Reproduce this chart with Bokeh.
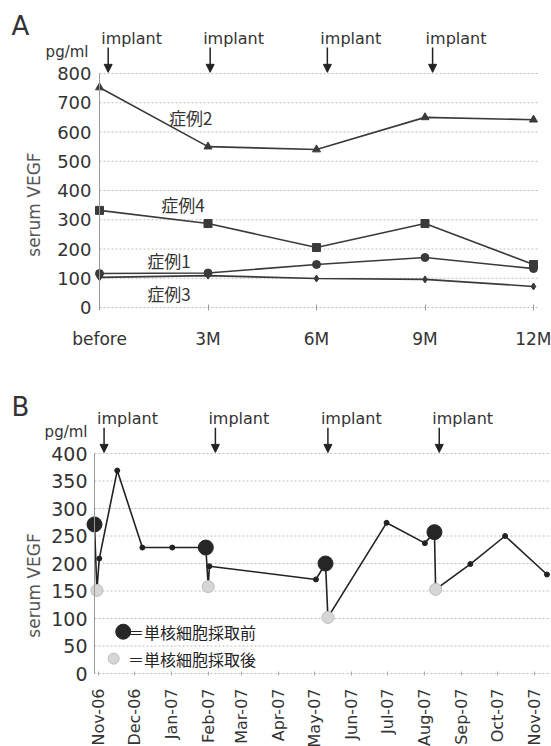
import pandas as pd
from math import pi
from bokeh.plotting import figure
from bokeh.layouts import column
from bokeh.models import (Range1d, FixedTicker, Label, Arrow, NormalHead,
                          DatetimeTickFormatter)
from bokeh.embed import file_html
from bokeh.resources import INLINE

# ---------------- Panel A data ----------------
a_categories = ["before", "3M", "6M", "9M", "12M"]
a_case1 = [116, 118, 147, 171, 133]
a_case2 = [752, 550, 540, 650, 642]
a_case3 = [103, 109, 99, 96, 72]
a_case4 = [332, 287, 205, 287, 147]
a_case_names = ["症例1", "症例2", "症例3", "症例4"]
a_implant_pos = [0.08, 1.02, 2.10, 3.07]
a_yticks = [0, 100, 200, 300, 400, 500, 600, 700, 800]

# ---------------- Panel B data ----------------
b_dates = ["2006-10-29", "2006-10-31", "2006-11-02", "2006-11-17", "2006-12-08",
           "2007-01-02", "2007-01-30", "2007-02-01", "2007-02-02", "2007-05-02",
           "2007-05-10", "2007-05-12", "2007-06-30", "2007-08-01", "2007-08-09",
           "2007-08-10", "2007-09-08", "2007-10-07", "2007-11-11"]
b_values = [271, 151, 209, 369, 229, 229, 229, 158, 195, 171,
            200, 102, 274, 237, 257, 153, 199, 250, 180]
b_kind = ["pre", "post", "", "", "", "", "pre", "post", "", "",
          "pre", "post", "", "", "pre", "post", "", "", ""]
b_implant_dates = ["2006-11-06", "2007-02-07", "2007-05-12", "2007-08-13"]
b_month_ticks = ["2006-11-01", "2006-12-01", "2007-01-01", "2007-02-01", "2007-03-01",
                 "2007-04-01", "2007-05-01", "2007-06-01", "2007-07-01", "2007-08-01",
                 "2007-09-01", "2007-10-01", "2007-11-01"]
b_yticks = [0, 50, 100, 150, 200, 250, 300, 350, 400]
b_legend_labels = ["＝単核細胞採取前", "＝単核細胞採取後"]


def ms(s):
    return pd.Timestamp(s).value / 1e6


DAY = 86400000.0
TXT = "#333333"
GRID = "#bdbdbd"
FONT = "DejaVu Sans"
CJK = "Noto Sans CJK JP"
W = 551

# ======================= Panel A =======================
# layout: the plot frame fills the whole canvas; axes sit at fixed locations
HA = 366
a_pxu = 108.5            # px per category step
a_pyu = 234 / 800.0      # px per pg/ml
a_ax_px = 99             # canvas x of the y axis
a_x0_px = 307            # canvas y of value 0 (from top)
a_xs = -a_ax_px / a_pxu
a_xe = (W - a_ax_px) / a_pxu
a_ye = a_x0_px / a_pyu
a_ys = -(HA - a_x0_px) / a_pyu
a_grid_end = (538 - a_ax_px) / a_pxu

pA = figure(width=W, height=HA, output_backend="svg", toolbar_location=None,
            x_range=Range1d(a_xs, a_xe), y_range=Range1d(a_ys, a_ye),
            min_border=0, min_border_left=0, min_border_right=0,
            min_border_top=0, min_border_bottom=0)
pA.outline_line_color = None
pA.xgrid.visible = False
pA.ygrid.visible = False

pA.segment(x0=[0] * len(a_yticks), y0=a_yticks, x1=[a_grid_end] * len(a_yticks),
           y1=a_yticks, line_color=GRID, line_width=1, line_dash="2 2")

pA.yaxis.ticker = FixedTicker(ticks=a_yticks)
pA.yaxis.fixed_location = 0
pA.yaxis.bounds = (0, max(a_yticks))
pA.yaxis.axis_line_color = "#999999"
pA.yaxis.major_tick_out = 0
pA.yaxis.major_tick_in = 0
pA.yaxis.minor_tick_line_color = None
pA.yaxis.major_label_standoff = 8
pA.yaxis.major_label_text_font = FONT
pA.yaxis.major_label_text_font_size = "18px"
pA.yaxis.major_label_text_color = TXT

pA.xaxis.ticker = FixedTicker(ticks=list(range(len(a_categories))))
pA.xaxis.major_label_overrides = {i: c for i, c in enumerate(a_categories)}
pA.xaxis.fixed_location = 0
pA.xaxis.axis_line_color = None
pA.xaxis.major_tick_line_color = "#999999"
pA.xaxis.major_tick_in = 3
pA.xaxis.major_tick_out = 3
pA.xaxis.minor_tick_line_color = None
pA.xaxis.major_label_standoff = 18
pA.xaxis.major_label_text_font = FONT
pA.xaxis.major_label_text_font_size = "17px"
pA.xaxis.major_label_text_color = TXT

xs = list(range(len(a_categories)))
LC = "#3a3a3a"
series = [(a_case2, "triangle", 8), (a_case4, "square", 8),
          (a_case1, "circle", 8), (a_case3, "diamond", 7)]
for vals, mk, sz in series:
    pA.line(xs, vals, line_color=LC, line_width=1.6)
    pA.scatter(xs, vals, marker=mk, size=sz, fill_color=LC, line_color=LC)

case_label_pos = {"症例2": (0.84, 650), "症例4": (0.77, 352),
                  "症例1": (0.64, 161), "症例3": (0.64, 48)}
for name in a_case_names:
    x, y = case_label_pos[name]
    pA.add_layout(Label(x=x, y=y, text=name, text_font=CJK,
                        text_font_size="17px", text_color=TXT,
                        text_align="center", text_baseline="middle"))

for xi in a_implant_pos:
    pA.add_layout(Arrow(end=NormalHead(size=8, fill_color="#222222",
                                       line_color="#222222"),
                        x_start=xi, y_start=889, x_end=xi, y_end=804,
                        line_color="#222222", line_width=1.5))
    pA.add_layout(Label(x=xi, y=920, x_offset=-7, text="implant",
                        text_font=FONT, text_font_size="16px",
                        text_color=TXT, text_align="left", text_baseline="middle"))

pA.add_layout(Label(x=0, y=872, x_offset=-11, text="pg/ml", text_font=FONT,
                    text_font_size="15px", text_color=TXT, text_align="right",
                    text_baseline="middle"))
pA.add_layout(Label(x=0, y=964, x_offset=-79, text="A", text_font=FONT,
                    text_font_size="26px", text_color=TXT, text_align="center",
                    text_baseline="middle"))
pA.add_layout(Label(x=0, y=352, x_offset=-66, text="serum VEGF", angle=pi / 2,
                    text_font=FONT, text_font_size="17px",
                    text_color="#555555", text_align="center",
                    text_baseline="middle"))

# ======================= Panel B =======================
HB = 380
b_pxd = 1.197            # px per day
b_pyu = 220 / 400.0      # px per pg/ml
b_ax_px = 94             # canvas x of the y axis
b_top_to_400 = 87        # canvas y of 400 (from top)
axis_x = ms(b_dates[0])
b_xs = axis_x - b_ax_px / b_pxd * DAY
b_xe = axis_x + (W - b_ax_px) / b_pxd * DAY
b_ye = 400 + b_top_to_400 / b_pyu
b_ys = -(HB - b_top_to_400 - 220) / b_pyu

pB = figure(width=W, height=HB, output_backend="svg", toolbar_location=None,
            x_axis_type="datetime", x_range=Range1d(b_xs, b_xe),
            y_range=Range1d(b_ys, b_ye),
            min_border=0, min_border_left=0, min_border_right=0,
            min_border_top=0, min_border_bottom=0)
pB.outline_line_color = None
pB.xgrid.visible = False
pB.ygrid.visible = False

pB.segment(x0=[axis_x] * len(b_yticks), y0=b_yticks, x1=[b_xe] * len(b_yticks),
           y1=b_yticks, line_color=GRID, line_width=1, line_dash="2 2")

pB.yaxis.ticker = FixedTicker(ticks=b_yticks)
pB.yaxis.fixed_location = axis_x
pB.yaxis.bounds = (0, max(b_yticks))
pB.yaxis.axis_line_color = "#999999"
pB.yaxis.major_tick_out = 0
pB.yaxis.major_tick_in = 0
pB.yaxis.minor_tick_line_color = None
pB.yaxis.major_label_standoff = 7
pB.yaxis.major_label_text_font = FONT
pB.yaxis.major_label_text_font_size = "19px"
pB.yaxis.major_label_text_color = TXT

fmt = "%b-%y"
pB.xaxis.ticker = FixedTicker(ticks=[ms(d) for d in b_month_ticks])
pB.xaxis.formatter = DatetimeTickFormatter(
    microseconds=fmt, milliseconds=fmt, seconds=fmt, minsec=fmt, minutes=fmt,
    hourmin=fmt, hours=fmt, days=fmt, months=fmt, years=fmt)
pB.xaxis.fixed_location = 0
pB.xaxis.major_label_orientation = pi / 2
pB.xaxis.axis_line_color = None
pB.xaxis.major_tick_line_color = "#aaaaaa"
pB.xaxis.major_tick_in = 2
pB.xaxis.major_tick_out = 2
pB.xaxis.minor_tick_line_color = None
pB.xaxis.major_label_standoff = 13
pB.xaxis.major_label_text_font = FONT
pB.xaxis.major_label_text_font_size = "16px"
pB.xaxis.major_label_text_color = TXT

bx = pd.to_datetime(b_dates)
pB.line(bx, b_values, line_color="#222222", line_width=1.6)
small = [i for i, k in enumerate(b_kind) if k == ""]
pre = [i for i, k in enumerate(b_kind) if k == "pre"]
post = [i for i, k in enumerate(b_kind) if k == "post"]
pB.scatter([bx[i] for i in small], [b_values[i] for i in small], size=5,
           fill_color="#222222", line_color="#222222")
pB.scatter([bx[i] for i in post], [b_values[i] for i in post], size=12,
           fill_color="#d6d6d6", line_color="#bbbbbb")
pB.scatter([bx[i] for i in pre], [b_values[i] for i in pre], size=15,
           fill_color="#262626", line_color="#262626")

# legend
pB.scatter([pd.Timestamp("2006-11-22")], [76], size=15, fill_color="#262626",
           line_color="#262626")
pB.scatter([pd.Timestamp("2006-11-14")], [27], size=11, fill_color="#d6d6d6",
           line_color="#bbbbbb")
for lab, yv in zip(b_legend_labels, [76, 27]):
    pB.add_layout(Label(x=ms("2006-11-26"), y=yv, text=lab, text_font=CJK,
                        text_font_size="16px", text_color="#222222",
                        text_align="left", text_baseline="middle"))

for d in b_implant_dates:
    xi = ms(d)
    pB.add_layout(Arrow(end=NormalHead(size=8, fill_color="#222222",
                                       line_color="#222222"),
                        x_start=xi, y_start=447, x_end=xi, y_end=402,
                        line_color="#222222", line_width=1.5))
    pB.add_layout(Label(x=xi, y=464, x_offset=-7, text="implant",
                        text_font=FONT, text_font_size="16px",
                        text_color=TXT, text_align="left", text_baseline="middle"))

pB.add_layout(Label(x=axis_x, y=440, x_offset=-7, text="pg/ml", text_font=FONT,
                    text_font_size="15px", text_color=TXT, text_align="right",
                    text_baseline="middle"))
pB.add_layout(Label(x=axis_x, y=484, x_offset=-74, text="B", text_font=FONT,
                    text_font_size="26px", text_color=TXT, text_align="center",
                    text_baseline="middle"))
pB.add_layout(Label(x=axis_x, y=160, x_offset=-61, text="serum VEGF", angle=pi / 2,
                    text_font=FONT, text_font_size="17px",
                    text_color="#555555", text_align="center",
                    text_baseline="middle"))

layout = column(pA, pB)
open("out.html", "w").write(file_html(layout, INLINE, title="serum VEGF"))
